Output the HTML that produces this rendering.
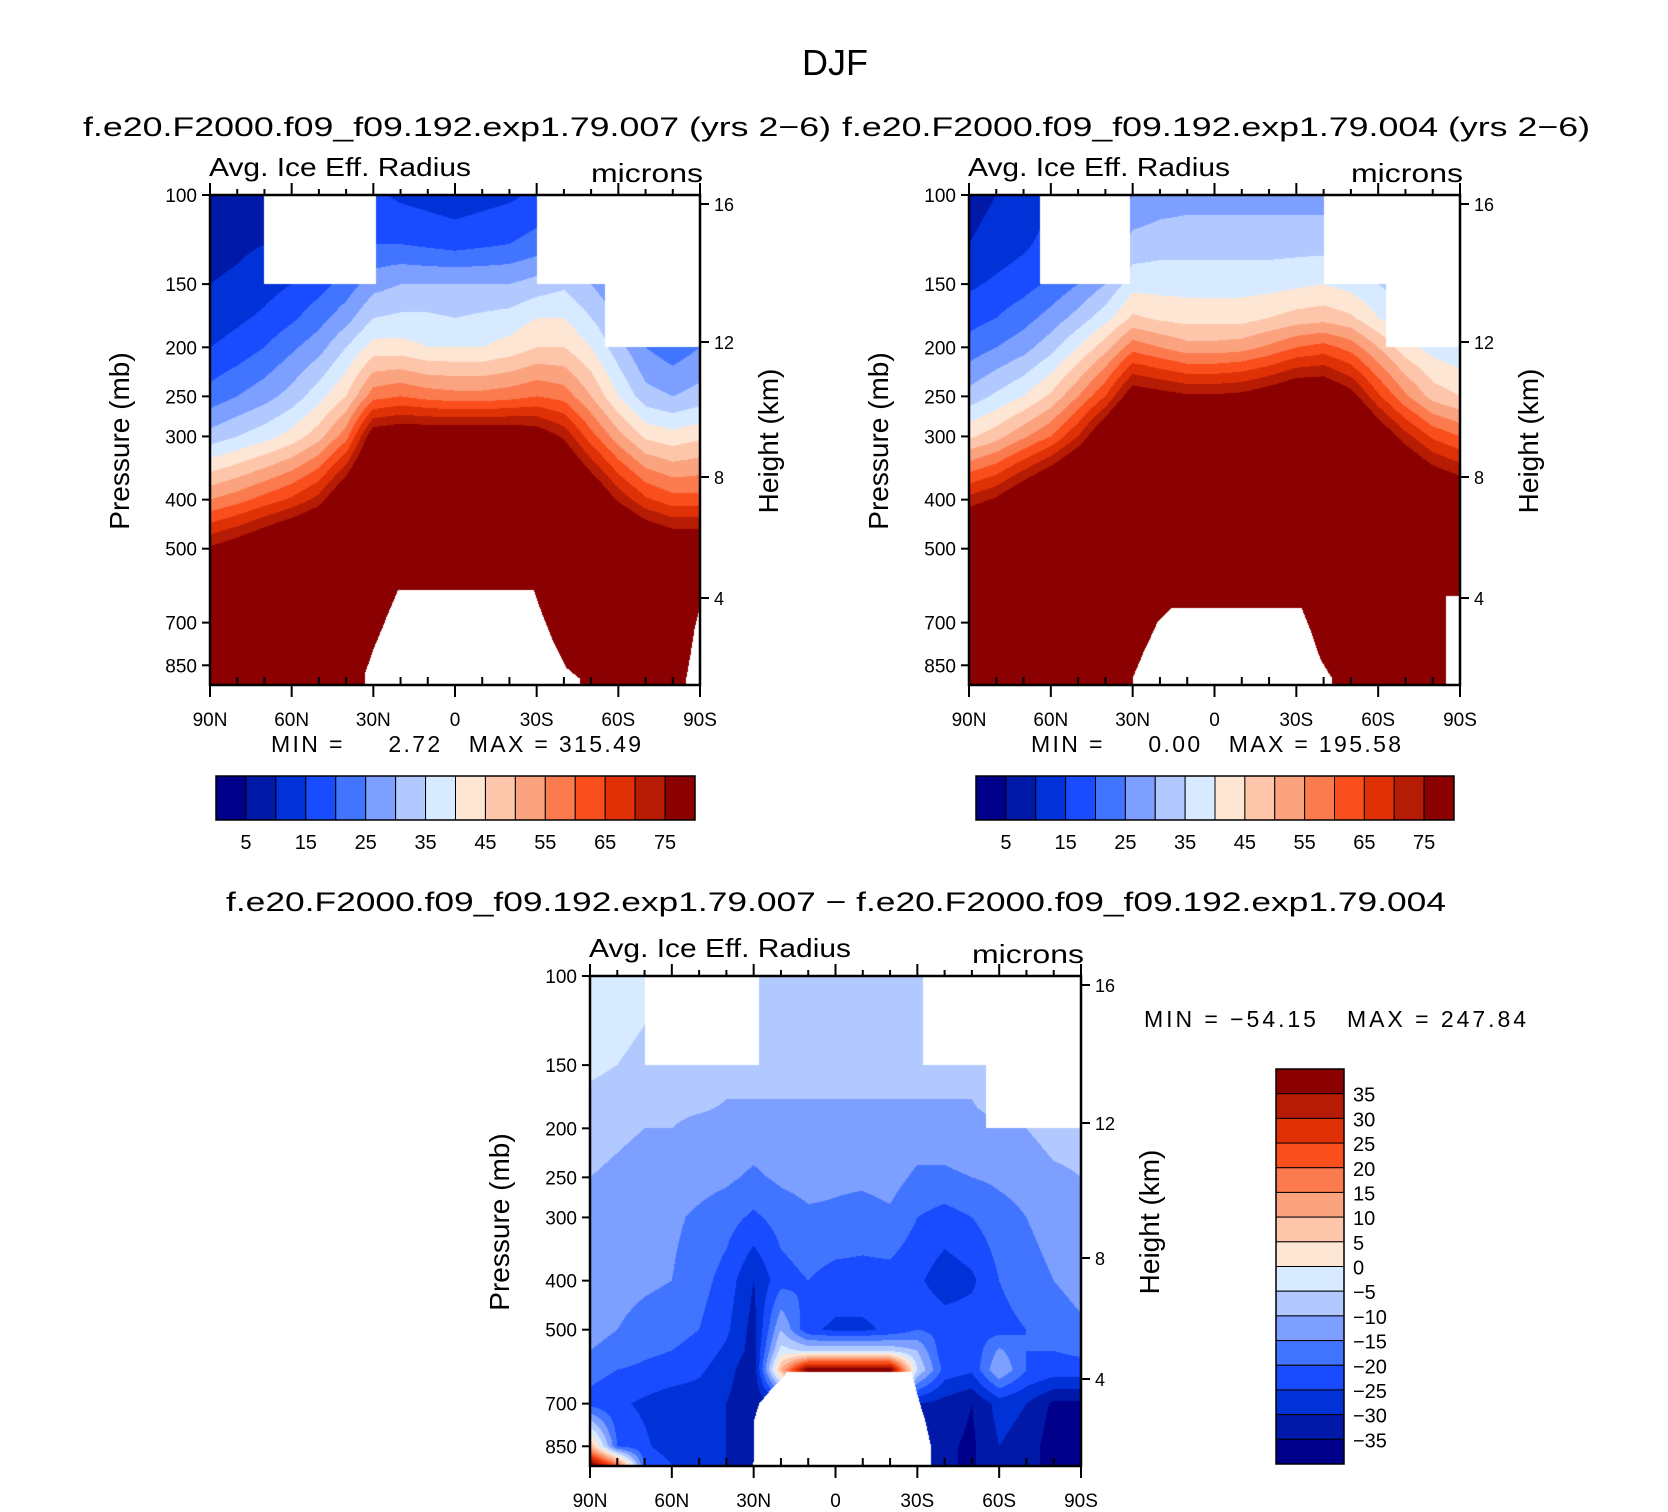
<!DOCTYPE html>
<html><head><meta charset="utf-8">
<style>
body{margin:0;background:#fff;}
#wrap{position:relative;width:1668px;height:1512px;overflow:hidden;background:#fff;}
canvas{position:absolute;}
svg{position:absolute;left:0;top:0;}
text{font-family:"Liberation Sans",sans-serif;fill:#000;}
</style></head>
<body>
<div id="wrap">
<canvas id="c1" width="490" height="490" style="left:210px;top:195px"></canvas>
<canvas id="c2" width="491" height="490" style="left:969px;top:195px"></canvas>
<canvas id="c3" width="491" height="491" style="left:590px;top:976px"></canvas>
<svg id="s" width="1668" height="1512" xmlns="http://www.w3.org/2000/svg">
<text x="835" y="75" font-size="36" text-anchor="middle">DJF</text>
<text x="83" y="136" font-size="27" textLength="748" lengthAdjust="spacingAndGlyphs">f.e20.F2000.f09_f09.192.exp1.79.007 (yrs 2−6)</text>
<text x="842" y="136" font-size="27" textLength="748" lengthAdjust="spacingAndGlyphs">f.e20.F2000.f09_f09.192.exp1.79.004 (yrs 2−6)</text>
<text x="226" y="911" font-size="27" textLength="1220" lengthAdjust="spacingAndGlyphs">f.e20.F2000.f09_f09.192.exp1.79.007 − f.e20.F2000.f09_f09.192.exp1.79.004</text>
<text x="271" y="752" font-size="23" textLength="370" lengthAdjust="spacing" xml:space="preserve">MIN =     2.72   MAX = 315.49</text>
<text x="1031" y="752" font-size="23" textLength="370" lengthAdjust="spacing" xml:space="preserve">MIN =     0.00   MAX = 195.58</text>
<text x="1144" y="1027" font-size="23" textLength="382" lengthAdjust="spacing" xml:space="preserve">MIN = −54.15   MAX = 247.84</text>
<g id="g"></g>
</svg>
</div>
<script>
// ---- data ----
const lats = [90,80,70,60,50,40,30,20,10,0,-10,-20,-30,-40,-50,-60,-70,-80,-90];
const levels = [100,125,150,175,200,250,300,400,500,550,600,700,850,925];
const field1 = [
[6,7,8,10,12,14,16,14,13,12,13,14,16,18,20,20,20,20,20],
[8,9,10,12,14,17,20,20,19,18,19,20,22,24,25,25,25,25,25],
[10,11,13,15,18,22,28,30,30,30,30,30,32,34,30,25,22,20,20],
[12,14,16,19,23,28,35,36,36,35,36,37,40,40,35,30,25,22,22],
[15,17,20,24,28,35,42,42,40,40,40,42,45,45,40,32,25,22,25],
[22,25,28,32,38,45,58,60,58,57,57,58,60,58,50,40,32,30,32],
[32,35,38,42,48,58,80,82,82,82,82,82,80,74,62,52,44,42,44],
[55,58,62,66,72,85,100,100,100,100,100,100,100,95,85,74,66,62,62],
[76,80,85,90,95,100,100,100,100,100,100,100,100,100,100,95,88,84,84],
[95,98,100,100,100,100,100,100,100,100,100,100,100,100,100,100,100,100,100],
[100,100,100,100,100,100,100,100,100,100,100,100,100,100,100,100,100,100,100],
[100,100,100,100,100,100,100,100,100,100,100,100,100,100,100,100,100,100,100],
[100,100,100,100,100,100,100,100,100,100,100,100,100,100,100,100,100,100,100],
[100,100,100,100,100,100,100,100,100,100,100,100,100,100,100,100,100,100,100]];
const field2 = [
[8,10,12,14,16,18,25,27,28,28,28,28,28,28,28,28,28,28,28],
[10,12,14,17,20,24,32,33,33,33,33,33,33,33,33,33,33,33,33],
[14,16,18,21,25,30,38,38,38,38,38,38,39,40,38,35,32,30,30],
[18,20,23,27,32,38,46,44,43,43,43,45,47,48,46,40,36,34,34],
[22,25,28,33,40,48,58,55,52,52,53,56,60,62,58,50,42,38,36],
[32,36,40,46,55,65,80,78,76,76,77,80,84,84,78,66,56,48,45],
[44,48,54,60,70,84,100,100,100,100,100,100,100,100,95,82,72,64,60],
[72,76,84,92,100,100,100,100,100,100,100,100,100,100,100,100,95,88,84],
[92,96,100,100,100,100,100,100,100,100,100,100,100,100,100,100,100,100,100],
[100,100,100,100,100,100,100,100,100,100,100,100,100,100,100,100,100,100,100],
[100,100,100,100,100,100,100,100,100,100,100,100,100,100,100,100,100,100,100],
[100,100,100,100,100,100,100,100,100,100,100,100,100,100,100,100,100,100,100],
[100,100,100,100,100,100,100,100,100,100,100,100,100,100,100,100,100,100,100],
[100,100,100,100,100,100,100,100,100,100,100,100,100,100,100,100,100,100,100]];
const field3 = [
[-3,-4,-5,-6,-7,-8,-8,-8,-8,-8,-8,-8,-8,-8,-5,-5,-5,-5,-5],
[-4,-4,-5,-6,-7,-8,-8,-8,-8,-8,-8,-8,-8,-8,-6,-5,-5,-5,-5],
[-4,-5,-6,-7,-8,-8,-9,-9,-9,-9,-9,-9,-9,-9,-8,-6,-5,-5,-5],
[-6,-7,-8,-9,-9,-10,-10,-10,-10,-10,-10,-10,-10,-10,-10,-8,-7,-6,-6],
[-8,-9,-10,-10,-11,-11,-12,-11,-11,-12,-12,-11,-12,-12,-11,-11,-10,-8,-8],
[-10,-11,-12,-12,-13,-14,-16,-14,-13,-14,-14,-13,-16,-16,-15,-14,-13,-11,-10],
[-11,-12,-13,-14,-16,-18,-21,-18,-16,-16,-17,-16,-20,-22,-20,-17,-15,-13,-12],
[-12,-13,-14,-15,-18,-22,-30,-22,-20,-22,-22,-22,-24,-28,-26,-20,-17,-15,-13],
[-13,-15,-17,-18,-20,-24,-32,-10,-24,-26,-26,-24,-20,-22,-22,-22,-20,-18,-16],
[-15,-17,-19,-20,-22,-26,-32,-3,-6,-6,-6,-6,-10,-24,-24,-14,-20,-20,-19],
[-18,-20,-21,-22,-24,-28,-34,10,40,40,40,40,-5,-22,-24,-10,-20,-22,-22],
[-22,-24,-26,-28,-28,-30,-34,-30,-30,-30,-30,-30,-30,-32,-35,-28,-30,-36,-36],
[10,-20,-24,-28,-28,-30,-34,-32,-32,-32,-32,-32,-32,-34,-36,-30,-32,-38,-38],
[40,20,-20,-25,-28,-30,-32,-30,-30,-30,-30,-30,-30,-34,-36,-30,-32,-38,-38]];
// mask: [latNorth, latSouth, pressure] top regions (missing where p < pressure)
const topMask1 = [[70,29,150],[-30,-90,150],[-55,-90,200]];
const topMask2 = [[64,31,150],[-40,-90,150],[-63,-90,200]];
const topMask3 = [[70,28,150],[-32,-90,150],[-55,-90,200]];
// bottom masks: lat breakpoints and pressure (missing where p > pressure)
const botLat1 = [90,36,33,30,25,21,-29,-31,-36,-41,-46,-50,-82,-85,-88,-90];
const botP1   = [2000,2000,880,790,680,604,604,650,760,860,905,2000,2000,900,720,650];
const botLat2 = [90,32,30,26,21,16,-32,-35,-39,-43,-46,-84,-85,-90];
const botP2   = [2000,2000,900,800,700,656,656,720,830,900,2000,2000,620,620];
const botLat3 = [90,30.5,30,28,24,19,18,-28,-29,-31,-33,-35,-36,-90];
const botP3   = [2000,2000,760,700,660,620,607,607,640,700,760,850,2000,2000];
const cbLabels12 = ["5","15","25","35","45","55","65","75"];
const cbLabels3 = ["35","30","25","20","15","10","5","0","−5","−10","−15","−20","−25","−30","−35"];
const colors = ["#00008a","#0019a8","#0032d8","#1a4cff","#4275ff","#7d9fff","#b1c9ff","#d8eaff","#fee6d4","#fdc6ab","#fba27f","#fb7b4e","#fa4e1c","#e03106","#b61b04","#8b0000"];

// ---- helpers ----
const H=490, DEC=506;
function pToY(p){return DEC*Math.log10(p/100);}
function yToP(y){return 100*Math.pow(10,y/DEC);}
function interpGrid(f,lat,p){
  let fi=(90-lat)/10; let i=Math.min(17,Math.floor(fi)); let ti=fi-i;
  let lp=Math.log(p); let j=0;
  while(j<levels.length-2 && Math.log(levels[j+1])<lp) j++;
  let a=Math.log(levels[j]),b=Math.log(levels[j+1]);
  let tj=Math.max(0,Math.min(1,(lp-a)/(b-a)));
  let v00=f[j][i],v01=f[j][i+1],v10=f[j+1][i],v11=f[j+1][i+1];
  return (v00*(1-ti)+v01*ti)*(1-tj)+(v10*(1-ti)+v11*ti)*tj;
}
function botLimit(bl,bp,lat){
  for(let k=0;k<bl.length-1;k++){
    if(lat<=bl[k]&&lat>=bl[k+1]){let t=(bl[k]-lat)/(bl[k]-bl[k+1]||1);return bp[k]+(bp[k+1]-bp[k])*t;}
  }
  return 2000;
}
function hex(c){return [parseInt(c.substr(1,2),16),parseInt(c.substr(3,2),16),parseInt(c.substr(5,2),16)];}
const rgb=colors.map(hex);
function drawField(id,f,tm,bl,bp,binFn){
  const cv=document.getElementById(id),ctx=cv.getContext('2d');
  const w=cv.width,h=cv.height,img=ctx.createImageData(w,h);
  for(let x=0;x<w;x++){
    const lat=90-(x+0.5)/w*180;
    const bot=botLimit(bl,bp,lat);
    for(let y=0;y<h;y++){
      const p=yToP(y+0.5); let miss=p>bot;
      for(const m of tm){ if(lat<=m[0]&&lat>=m[1]&&p<m[2]) miss=true; }
      let k=(y*w+x)*4;
      if(miss){img.data[k]=255;img.data[k+1]=255;img.data[k+2]=255;img.data[k+3]=255;continue;}
      const c=rgb[binFn(interpGrid(f,lat,p))];
      img.data[k]=c[0];img.data[k+1]=c[1];img.data[k+2]=c[2];img.data[k+3]=255;
    }
  }
  ctx.putImageData(img,0,0);
}
const bin12=v=>Math.max(0,Math.min(15,Math.floor(v/5)));
const bin3=v=>Math.max(0,Math.min(15,Math.floor((v+35)/5)+1));
drawField('c1',field1,topMask1,botLat1,botP1,bin12);
drawField('c2',field2,topMask2,botLat2,botP2,bin12);
drawField('c3',field3,topMask3,botLat3,botP3,bin3);

// ---- axes ----
const NS='http://www.w3.org/2000/svg', G=document.getElementById('g');
function el(tag,attrs,parent){const e=document.createElementNS(NS,tag);for(const k in attrs)e.setAttribute(k,attrs[k]);(parent||G).appendChild(e);return e;}
const pTicks=[100,150,200,250,300,400,500,700,850];
const hTicks=[["16",9],["12",147],["8",282],["4",403]];
const xLabels=["90N","60N","30N","0","30S","60S","90S"];
function axes(L,T,W,name){
  const grp=el('g',{});
  
  
  const fr=el('rect',{x:L,y:T,width:W,height:H,fill:'none',stroke:'#000','stroke-width':2.5},grp);
  
  
  pTicks.forEach(p=>{const y=T+pToY(p);
    el('line',{x1:L-8,x2:L,y1:y,y2:y,stroke:'#000','stroke-width':2},grp);
    const t=el('text',{x:L-13,y:y+7,'font-size':19,'text-anchor':'end'},grp);t.textContent=p;
    
    });
  hTicks.forEach(h=>{const y=T+h[1];
    el('line',{x1:L+W,x2:L+W+9,y1:y,y2:y,stroke:'#000','stroke-width':2},grp);
    const t=el('text',{x:L+W+14,y:y+7,'font-size':18},grp);t.textContent=h[0];
    
    });
  for(let k=0;k<=18;k++){const x=L+W*k/18;const major=k%3==0;
    el('line',{x1:x,x2:x,y1:T+H,y2:T+H-(major?0:8),stroke:'#000','stroke-width':2},grp);
    el('line',{x1:x,x2:x,y1:T,y2:T-(major?12:6),stroke:'#000','stroke-width':2},grp);
    if(major){el('line',{x1:x,x2:x,y1:T+H,y2:T+H+12,stroke:'#000','stroke-width':2},grp);
      const t=el('text',{x:x,y:T+H+41,'font-size':19,'text-anchor':'middle'},grp);t.textContent=xLabels[k/3];
      
      }}
  let t=el('text',{x:L-1,y:T-19,'font-size':26,textLength:262,lengthAdjust:'spacingAndGlyphs'},grp);t.textContent='Avg. Ice Eff. Radius';
  
  
  t=el('text',{x:L+W+3,y:T-13,'font-size':26,'text-anchor':'end',textLength:112,lengthAdjust:'spacingAndGlyphs'},grp);t.textContent='microns';
  
  
  t=el('text',{x:0,y:0,'font-size':28,'text-anchor':'middle',transform:`translate(${L-81},${T+246}) rotate(-90)`},grp);t.textContent='Pressure (mb)';
  
  
  t=el('text',{x:0,y:0,'font-size':28,'text-anchor':'middle',transform:`translate(${L+W+78},${T+246}) rotate(-90)`},grp);t.textContent='Height (km)';
  
  
}
axes(210,195,490,'panel1');
axes(969,195,491,'panel2');
axes(590,976,491,'panel3');

function hbar(L,T,W,Hh,name){
  const grp=el('g',{});
  
  
  const bw=W/16;
  colors.forEach((c,i)=>{const r=el('rect',{x:L+i*bw,y:T,width:bw,height:Hh,fill:c,stroke:'#000','stroke-width':1},grp);
    
    });
  el('rect',{x:L,y:T,width:W,height:Hh,fill:'none',stroke:'#000','stroke-width':1.5},grp);
  cbLabels12.forEach((s,i)=>{const t=el('text',{x:L+(2*i+1)*bw,y:T+Hh+29,'font-size':20,'text-anchor':'middle'},grp);t.textContent=s;
    
    });
}
hbar(216,776,479,44,'panel1-colorbar');
hbar(976,776,478,44,'panel2-colorbar');
(function(){
  const L=1276,T=1069,W=68,Hh=395,bh=Hh/16;
  const grp=el('g',{});
  
  
  colors.slice().reverse().forEach((c,i)=>{const r=el('rect',{x:L,y:T+i*bh,width:W,height:bh,fill:c,stroke:'#000','stroke-width':1},grp);
    
    });
  el('rect',{x:L,y:T,width:W,height:Hh,fill:'none',stroke:'#000','stroke-width':1.5},grp);
  cbLabels3.forEach((s,i)=>{const t=el('text',{x:L+W+9,y:T+(i+1)*bh+8,'font-size':20},grp);t.textContent=s;
    
    });
})();
</script>
</body></html>
